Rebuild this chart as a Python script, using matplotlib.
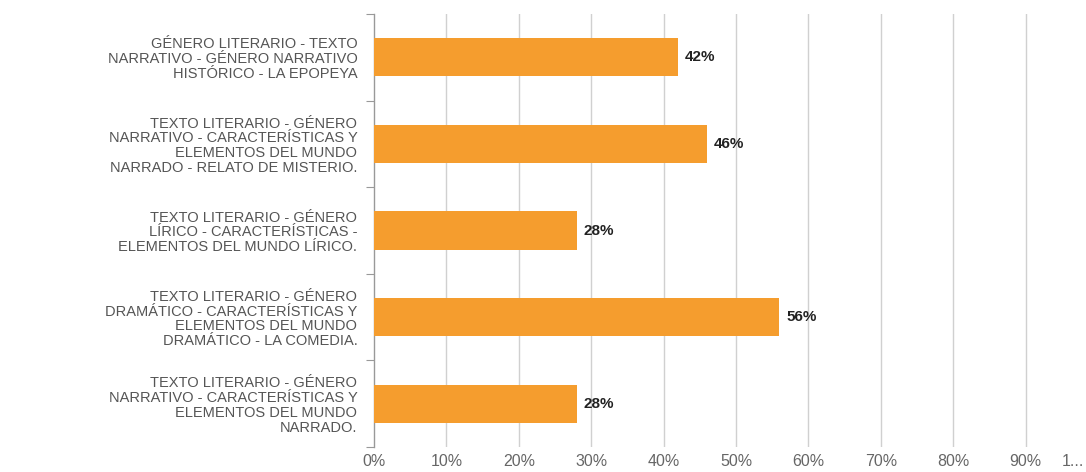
import numpy as np
import matplotlib
matplotlib.use('Agg')
import matplotlib.pyplot as plt
import matplotlib.transforms as mtransforms

# data
categories = [
    'GÉNERO LITERARIO - TEXTO\nNARRATIVO - GÉNERO NARRATIVO\nHISTÓRICO - LA EPOPEYA',
    'TEXTO LITERARIO - GÉNERO\nNARRATIVO - CARACTERÍSTICAS Y\nELEMENTOS DEL MUNDO\nNARRADO - RELATO DE MISTERIO.',
    'TEXTO LITERARIO - GÉNERO\nLÍRICO - CARACTERÍSTICAS -\nELEMENTOS DEL MUNDO LÍRICO.',
    'TEXTO LITERARIO - GÉNERO\nDRAMÁTICO - CARACTERÍSTICAS Y\nELEMENTOS DEL MUNDO\nDRAMÁTICO - LA COMEDIA.',
    'TEXTO LITERARIO - GÉNERO\nNARRATIVO - CARACTERÍSTICAS Y\nELEMENTOS DEL MUNDO\nNARRADO.',
]
values = [0.42, 0.46, 0.28, 0.56, 0.28]
x_ticks = [0.0, 0.1, 0.2, 0.3, 0.4, 0.5, 0.6, 0.7, 0.8, 0.9, 1.0]
x_tick_labels = ['0%', '10%', '20%', '30%', '40%', '50%', '60%', '70%', '80%', '90%', '1...']

plt.rcParams['font.family'] = ['Liberation Sans', 'DejaVu Sans']

W, H = 1086, 472
fig = plt.figure(figsize=(W / 100, H / 100), dpi=100)
# plot area: x from 374px to 1098px (100% sits just past the right edge), y from 14px to 447px
ax = fig.add_axes([374 / W, (H - 447) / H, (1098 - 374) / W, (447 - 14) / H])

y = np.arange(len(categories))
ax.barh(y, values, height=0.44, color='#F59D2E', zorder=3)

ax.set_xlim(0, 1.0)
ax.set_ylim(len(categories) - 0.5, -0.5)

# value labels
for yi, v in zip(y, values):
    ax.annotate(f'{v * 100:.0f}%', xy=(v, yi), xytext=(5, 0), textcoords='offset points',
                va='center', ha='left', fontsize=11, fontweight='bold', color='#222222')

# vertical gridlines
ax.set_xticks(x_ticks)
ax.set_xticklabels(x_tick_labels, fontsize=11.5, color='#666666')
ax.tick_params(axis='x', length=0, pad=5)
for xv in x_ticks[1:]:
    ax.axvline(xv, color='#d0d0d0', lw=1, zorder=1)

# shift the clipped "1..." label back into view
last = ax.get_xticklabels()[-1]
last.set_horizontalalignment('right')
last.set_transform(last.get_transform() + mtransforms.ScaledTranslation(-14 / 100, 0, fig.dpi_scale_trans))

# category labels with small ticks at the category boundaries
ax.set_yticks(y)
ax.set_yticklabels(categories, fontsize=10.5, color='#555555', linespacing=1.07)
ax.tick_params(axis='y', which='major', length=0, pad=12)
ax.set_yticks(np.arange(len(categories) + 1) - 0.5, minor=True)
ax.tick_params(axis='y', which='minor', length=6, width=0.8, color='#999999')

for s in ['top', 'right', 'bottom']:
    ax.spines[s].set_visible(False)
ax.spines['left'].set_color('#999999')
ax.spines['left'].set_linewidth(1)

fig.savefig('out.png', dpi=100)
